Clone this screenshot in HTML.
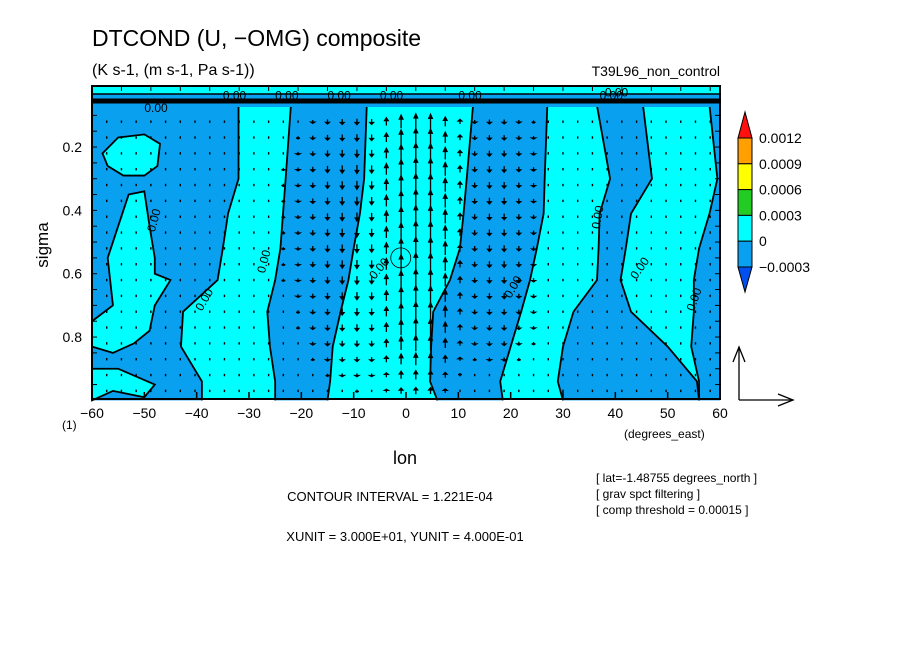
<!DOCTYPE html>
<html><head><meta charset="utf-8">
<style>
body{margin:0;background:#fff;}
svg text{font-family:"Liberation Sans",sans-serif;fill:#000;}
</style></head>
<body>
<svg id="chart" width="904" height="654" viewBox="0 0 904 654" xmlns="http://www.w3.org/2000/svg">
<rect width="904" height="654" fill="#fff"/>
<text x="92" y="46" font-size="23">DTCOND (U, −OMG) composite</text>
<text x="92" y="75" font-size="16">(K s-1, (m s-1, Pa s-1))</text>
<text x="720" y="76" font-size="14" text-anchor="end">T39L96_non_control</text>
<g id="plot"></g>
<g id="axes"></g>
<text x="48" y="245" font-size="17" transform="rotate(-90 48 245)" text-anchor="middle">sigma</text>
<text x="405" y="464" font-size="18" text-anchor="middle">lon</text>
<text x="62" y="429" font-size="12">(1)</text>
<text x="624" y="438" font-size="12">(degrees_east)</text>
<text x="390" y="501" font-size="13" text-anchor="middle">CONTOUR INTERVAL = 1.221E-04</text>
<text x="405" y="541" font-size="13" text-anchor="middle">XUNIT = 3.000E+01, YUNIT = 4.000E-01</text>
<text x="596" y="482" font-size="12">[ lat=-1.48755 degrees_north ]</text>
<text x="596" y="498" font-size="12">[ grav spct filtering ]</text>
<text x="596" y="514" font-size="12">[ comp threshold = 0.00015 ]</text>
<g>
<line x1="739" y1="400" x2="739" y2="347" stroke="#000" stroke-width="1.3"/>
<polyline points="733,362 739,347 745,362" fill="none" stroke="#000" stroke-width="1.3"/>
<line x1="739" y1="400" x2="793" y2="400" stroke="#000" stroke-width="1.3"/>
<polyline points="778,394 793,400 778,406" fill="none" stroke="#000" stroke-width="1.3"/>
</g>
<g id="cbar"></g>
</svg>
<script>
const NS="http://www.w3.org/2000/svg";
const lonMin=-60, lonMax=60;
const sigLevels=[0.07,0.3,0.41,0.52,0.62,0.72,0.83,0.94,1.0];
const B1=[-32,-32,-34,-35,-36,-42.6,-43,-39,-39];
const B2=[-22,-23,-23.5,-24,-25,-26.5,-26,-25,-25];
const B3=[-7.5,-8,-8.8,-10,-11,-12.5,-14,-14.5,-15];
const B4=[12.8,11.6,11,10.3,8.4,5.2,4.8,4.6,6];
const B5=[27,26.5,26.3,25,23.7,22,20,18,18.5];
const B6=[36.5,39,37,36.8,36.5,32,30,29,30];
const B7=[45.3,47,43,42,41,43,50,55.6,56];
const B8=[58,59.5,58,56,55,55,54.5,56,56];
const islandTopLon=[-58,-55,-50,-47,-47.5,-50,-54,-57];
const islandTopSig=[0.22,0.17,0.16,0.19,0.26,0.29,0.29,0.26];
const islandMidLon=[-53,-50,-49,-48,-48,-45,-48,-49,-52,-56,-60,-60,-56,-57,-55];
const islandMidSig=[0.35,0.34,0.45,0.55,0.6,0.62,0.7,0.78,0.82,0.85,0.83,0.75,0.7,0.55,0.45];
const islandBotLon=[-60,-55,-48,-50,-56,-60];
const islandBotSig=[0.9,0.9,0.95,0.99,0.97,1.0];
const vecLons=[];for(let i=0;i<=42;i++)vecLons.push(-60+2.8125*i);
const wCol=[0.05,0.05,0.05,0.04,0.04,0.05,0.06,0.05,0.05,0.06,0.08,-0.08,-0.1,-0.12,-0.15,-0.22,-0.3,-0.35,-0.38,-0.35,0.5,0.85,1.0,0.95,0.6,0.3,-0.22,-0.28,-0.28,-0.22,-0.18,-0.1,-0.08,-0.07,-0.07,0.07,0.08,0.07,0.06,0.06,0.05,0.05,0.05];
const vecSig=[0.12,0.17,0.22,0.27,0.32,0.37,0.42,0.47,0.52,0.57,0.62,0.67,0.72,0.77,0.82,0.87,0.92,0.97];
const vecProf=[0.7,0.8,0.9,1,1,1,1,1,1,1,0.95,0.9,0.85,0.8,0.7,0.55,0.4,0.3];
const yTicks=[0.2,0.4,0.6,0.8];
const xTicks=[-60,-50,-40,-30,-20,-10,0,10,20,30,40,50,60];
const cbLabels=["0.0012","0.0009","0.0006","0.0003","0","−0.0003"];
const cbColors=["#ffa000","#ffff00","#22cc22","#00ffff","#0aa0f0"];

const X0=92,X1=720,Y0=86,Y1=399;
const xs=l=>X0+(l-lonMin)/(lonMax-lonMin)*(X1-X0);
const ys=s=>83.7+s*316.7;
const CY="#00ffff",BL="#0aa0f0";
const plot=document.getElementById('plot');
function mk(t,a,p){const e=document.createElementNS(NS,t);for(const k in a)e.setAttribute(k,a[k]);(p||plot).appendChild(e);return e;}
let r=mk('rect',{x:X0,y:Y0,width:X1-X0,height:Y1-Y0,fill:CY});


function band(L,R,name){
 let pts=[];
 for(let i=0;i<sigLevels.length;i++)pts.push([L?xs(L[i]):X0,ys(sigLevels[i])]);
 for(let i=sigLevels.length-1;i>=0;i--)pts.push([R?xs(R[i]):X1,ys(sigLevels[i])]);
 const p=mk('polygon',{points:pts.map(q=>q.join(',')).join(' '),fill:BL});
 
 
}
band(null,B1,'negative-band-west');band(B2,B3,'negative-band-1');band(B4,B5,'negative-band-2');band(B6,B7,'negative-band-3');band(B8,null,'negative-band-east');
function island(lo,si,name){
 const p=mk('polygon',{points:lo.map((l,i)=>xs(l)+','+ys(si[i])).join(' '),fill:CY,stroke:'#000','stroke-width':1.8});
 
 
}
island(islandTopLon,islandTopSig,'positive-island-top');island(islandMidLon,islandMidSig,'positive-island-mid');island(islandBotLon,islandBotSig,'positive-island-bottom');
[B1,B2,B3,B4,B5,B6,B7,B8].forEach((B,k)=>{
 const p=mk('polyline',{points:B.map((l,i)=>xs(l)+','+ys(sigLevels[i])).join(' '),fill:'none',stroke:'#000','stroke-width':1.8});
 
 
});
let t1=mk('rect',{x:X0,y:Y0,width:X1-X0,height:8,fill:CY});


let t2=mk('rect',{x:X0,y:94,width:X1-X0,height:13,fill:BL});


let t3=mk('line',{x1:X0,y1:101,x2:X1,y2:101,stroke:'#000','stroke-width':5});


let t4=mk('line',{x1:X0,y1:94,x2:X1,y2:94,stroke:'#000','stroke-width':1.5});


[[-50,0.09,0],[-35,0.05,0],[-25,0.05,0],[-15,0.05,0],[-5,0.05,0],[10,0.05,0],[37,0.05,0],[38,0.04,0],[-48,0.47,-75],[-39,0.72,-60],[-27,0.6,-75],[-6,0.62,-50],[20,0.68,-60],[37,0.46,-80],[44,0.62,-55],[55,0.72,-70]].forEach(a=>{
 const t=mk('text',{x:xs(a[0]),y:ys(a[1]),'font-size':12,transform:`rotate(${a[2]} ${xs(a[0])} ${ys(a[1])})`});
 t.textContent='0.00';
 
 
});
let c=mk('circle',{cx:xs(-1),cy:ys(0.55),r:10,fill:'none',stroke:'#000','stroke-width':0.8});


const vg=mk('g',{});


vecLons.forEach((lo,i)=>{vecSig.forEach((s,j)=>{
 const len=wCol[i]*vecProf[j]*22, x=xs(lo), y=ys(s);
 if(Math.abs(len)<2.5){const d=mk('rect',{x:x-0.7,y:y-1.2,width:1.4,height:2.4,fill:'#000'},vg);
  
  return;}
 const y1=y+len/2,y2=y-len/2,dir=len>0?1:-1,h=Math.min(4,Math.abs(len)*0.35);
 const a=mk('path',{d:`M${x},${y1}L${x},${y2}M${x-1.8},${y2+dir*h}L${x},${y2}L${x+1.8},${y2+dir*h}Z`,stroke:'#000','stroke-width':1.3,fill:'#000'},vg);
 
 
});});
const ax=document.getElementById('axes');
let fr=mk('rect',{x:X0,y:Y0,width:X1-X0,height:Y1-Y0,fill:'none',stroke:'#000','stroke-width':2},ax);


for(let l=-60;l<=60;l+=2.8125*2){mk('line',{x1:xs(l),y1:Y0,x2:xs(l),y2:Y0+5,stroke:'#000'},ax);}
xTicks.forEach(l=>{
 mk('line',{x1:xs(l),y1:Y1,x2:xs(l),y2:Y1-7,stroke:'#000','stroke-width':1.5},ax);
 const t=mk('text',{x:xs(l),y:418,'font-size':14,'text-anchor':'middle'},ax);
 t.textContent=l===0?'0':(l<0?'−'+(-l):l);
 
 
});
for(let s=0.05;s<1;s+=0.05){mk('line',{x1:X0,y1:ys(s),x2:X0+5,y2:ys(s),stroke:'#000'},ax);mk('line',{x1:X1,y1:ys(s),x2:X1-5,y2:ys(s),stroke:'#000'},ax);}
yTicks.forEach(s=>{
 const t=mk('text',{x:82,y:ys(s)+5,'font-size':14,'text-anchor':'end'},ax);
 t.textContent=s.toFixed(1);
 
 
});
const cb=document.getElementById('cbar');
const cbx=738,cbw=14,cbT=138,seg=25.8;
let tr=mk('polygon',{points:`${cbx},${cbT} ${cbx+cbw/2},112 ${cbx+cbw},${cbT}`,fill:'#ff1010',stroke:'#000'},cb);


cbColors.forEach((col,i)=>{
 const s=mk('rect',{x:cbx,y:cbT+i*seg,width:cbw,height:seg,fill:col,stroke:'#000'},cb);
 
 
});
const bb=cbT+cbColors.length*seg;
let tb=mk('polygon',{points:`${cbx},${bb} ${cbx+cbw/2},${bb+25} ${cbx+cbw},${bb}`,fill:'#0050f0',stroke:'#000'},cb);


cbLabels.forEach((lb,i)=>{
 const t=mk('text',{x:cbx+cbw+7,y:cbT+i*seg+5,'font-size':14},cb);
 t.textContent=lb;
 
 
});
</script>
</body></html>
